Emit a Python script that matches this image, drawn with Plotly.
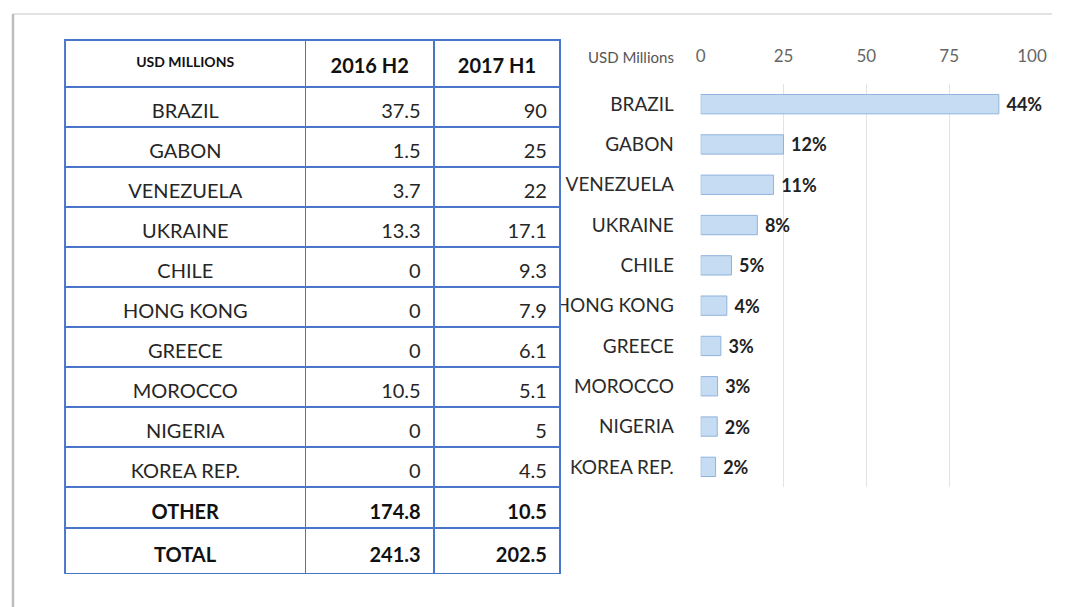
import plotly.graph_objects as go

countries = ["BRAZIL", "GABON", "VENEZUELA", "UKRAINE", "CHILE", "HONG KONG",
             "GREECE", "MOROCCO", "NIGERIA", "KOREA REP."]
h2_2016 = [37.5, 1.5, 3.7, 13.3, 0, 0, 0, 10.5, 0, 0]
h1_2017 = [90, 25, 22, 17.1, 9.3, 7.9, 6.1, 5.1, 5, 4.5]
other_h2, other_h1 = 174.8, 10.5
header_labels = ["USD MILLIONS", "2016 H2", "2017 H1"]
x_ticks = [0, 25, 50, 75, 100]

total_h2 = round(sum(h2_2016) + other_h2, 1)
total_h1 = round(sum(h1_2017) + other_h1, 1)

PAD = "\u00a0"
col0 = countries
col1 = [f"{v:g}{PAD}" for v in h2_2016]
col2 = [f"{v:g}{PAD}" for v in h1_2017]
other_row = ["<b>OTHER</b>", f"<b>{other_h2:g}</b>{PAD}", f"<b>{other_h1:g}</b>{PAD}"]
total_row = [["<b>TOTAL</b>"], [f"<b>{total_h2:g}</b>{PAD}"], [f"<b>{total_h1:g}</b>{PAD}"]]
pct = [f"\u00a0<b>{round(v / total_h1 * 100):.0f}%</b>" for v in h1_2017]

W, H = 1067, 607
# the rendered paper is mapped to screen as x_screen = 6 + 1046 * frac
def fx(px):
    return (px - 6) / 1046

def fy(py):
    return 1 - py / H

font = "Lato, Open Sans, sans-serif"
blue = "#4a76c9"
clear = "rgba(0,0,0,0)"
colw = [240, 128, 126]
tbl_x = [fx(66), fx(561)]
line = dict(color=blue, width=1.5)
noline = dict(color=clear, width=0)

fig = go.Figure()

# ---- main table: grid layer ----
fig.add_trace(go.Table(
    domain=dict(x=tbl_x, y=[fy(487), fy(40)]),
    columnwidth=colw,
    header=dict(values=["", "", ""], height=47, line=line, fill=dict(color="white")),
    cells=dict(values=[[""] * len(col0)] * 3, height=40, line=line, fill=dict(color="white")),
))
# ---- totals table: grid layer ----
fig.add_trace(go.Table(
    domain=dict(x=tbl_x, y=[fy(574), fy(487)]),
    columnwidth=colw,
    header=dict(values=["", "", ""], height=41, line=line, fill=dict(color="white")),
    cells=dict(values=[[""], [""], [""]], height=46, line=line, fill=dict(color="white")),
))

# ---- main table: text layer ----
fig.add_trace(go.Table(
    domain=dict(x=tbl_x, y=[fy(495), fy(45)]),
    columnwidth=colw,
    header=dict(
        values=[f"<b>{h}</b>" for h in header_labels],
        align="center", height=50, line=noline, fill=dict(color=clear),
        font=dict(family=font, size=[14, 20, 20], color="#111"),
    ),
    cells=dict(
        values=[col0, col1, col2],
        align=["center", "right", "right"], height=40, line=noline,
        fill=dict(color=clear),
        font=dict(family=font, size=20, color="#262626"),
    ),
))
# ---- totals table: text layer ----
fig.add_trace(go.Table(
    domain=dict(x=tbl_x, y=[fy(581), fy(491)]),
    columnwidth=colw,
    header=dict(
        values=other_row, align=["center", "right", "right"], height=43,
        line=noline, fill=dict(color=clear),
        font=dict(family=font, size=20, color="#111"),
    ),
    cells=dict(
        values=total_row, align=["center", "right", "right"], height=46,
        line=noline, fill=dict(color=clear),
        font=dict(family=font, size=20, color="#111"),
    ),
))

fig.add_trace(go.Bar(
    x=h1_2017, y=countries, orientation="h",
    width=0.48,
    marker=dict(color="#c6dcf2", line=dict(color="#8fb3dd", width=1)),
    text=pct, textposition="outside", cliponaxis=False, constraintext="none",
    textfont=dict(family=font, size=18, color="#222"),
    xaxis="x", yaxis="y",
))

fig.update_layout(
    width=W, height=H, autosize=False,
    margin=dict(l=0, r=0, t=0, b=0),
    paper_bgcolor="white", plot_bgcolor="white",
    showlegend=False,
    font=dict(family=font),
    xaxis=dict(
        domain=[fx(701), fx(1032)], range=[0, 100], side="top",
        tickvals=x_ticks, showgrid=True, gridcolor="#e3e3e3", gridwidth=1,
        zeroline=False, showline=False,
        tickfont=dict(family=font, size=17, color="#666"),
        ticks="outside", ticklen=14, tickcolor=clear,
        fixedrange=True,
    ),
    yaxis=dict(
        domain=[fy(487), fy(84)], autorange="reversed",
        showgrid=False, showline=False,
        tickfont=dict(family=font, size=19, color="#2a2a2a"),
        ticks="outside", ticklen=22, tickcolor=clear,
        fixedrange=True,
    ),
    annotations=[dict(
        text="USD Millions", x=fx(676), y=fy(57), xref="paper", yref="paper",
        xanchor="right", yanchor="middle", showarrow=False,
        font=dict(family=font, size=15, color="#555"),
    )],
    shapes=[
        dict(type="line", xref="paper", yref="paper",
             x0=fx(14), x1=1, y0=fy(14), y1=fy(14),
             line=dict(color="#d8d8d8", width=1.5), layer="below"),
        dict(type="line", xref="paper", yref="paper",
             x0=fx(14), x1=fx(14), y0=0, y1=fy(14),
             line=dict(color="#bdbdbd", width=2.5), layer="below"),
    ],
)

fig.write_html(
    "out.html",
    config={"responsive": False, "displayModeBar": False},
    post_script="document.body.style.margin='0';document.body.style.overflow='hidden';",
)
